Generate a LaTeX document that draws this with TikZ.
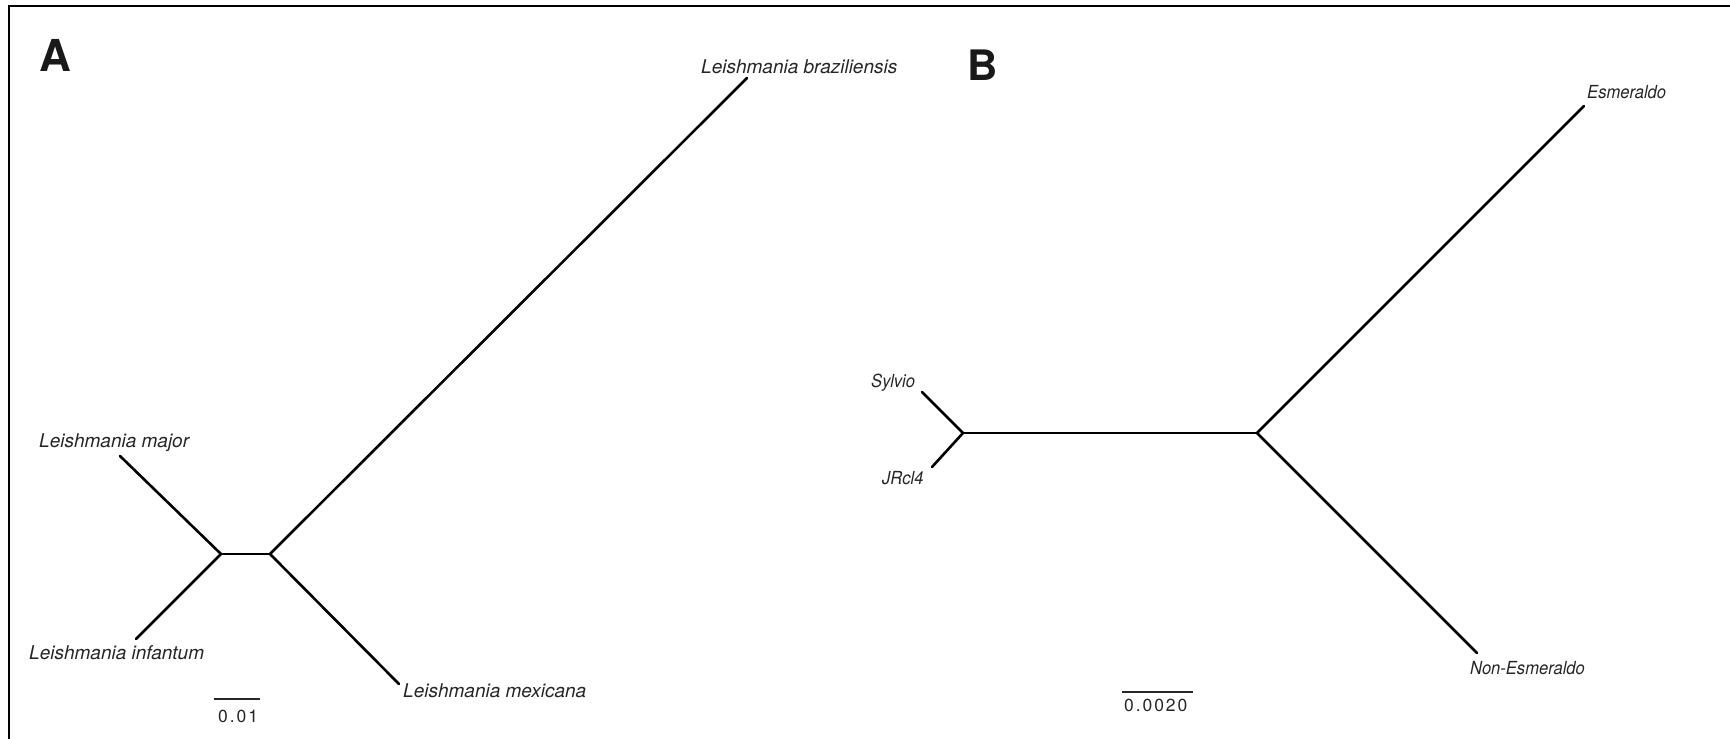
\documentclass[tikz,border=0pt]{standalone}
\usepackage{fontspec}
\setmainfont{TeX Gyre Heros}
\newfontfamily\labAfont{TeX Gyre Heros}
\newfontfamily\labBfont{TeX Gyre Heros}[FakeStretch=0.92]
\newfontfamily\scbarfont{TeX Gyre Heros}[LetterSpace=11]
\begin{document}
\begin{tikzpicture}[x=1pt,y=-1pt,
  branch/.style={line width=2.6pt,line cap=round,line join=round,black},
  labA/.style={anchor=base west,inner sep=0pt,text=black!85,font=\labAfont\itshape\fontsize{19}{22}\selectfont},
  labB/.style={anchor=base west,inner sep=0pt,text=black!85,font=\labBfont\itshape\fontsize{18}{21}\selectfont},
  sclab/.style={anchor=base west,inner sep=0pt,text=black!85,font=\scbarfont\fontsize{17.5}{20}\selectfont},
  panel/.style={anchor=base west,inner sep=0pt,text=black!90,font=\bfseries\fontsize{44}{48}\selectfont},
  scbar/.style={line width=2.6pt,black!85}]
\useasboundingbox (0,0) rectangle (1730,739);
% frame
\draw[line width=2pt] (9,739) -- (9,6) -- (756,6);
\draw[line width=1.7pt] (756,6) -- (1730,6);
% panel letters
\node[panel] (pA) at (39,71) {A};
\node[panel,font=\bfseries\fontsize{42}{46}\selectfont] (pB) at (967,80) {B};
% ---- Panel A ----
\coordinate (a1) at (221,554);
\coordinate (a2) at (270,554);
\coordinate (tmaj) at (120,456);
\coordinate (tinf) at (136,639);
\coordinate (tmex) at (399,684);
\coordinate (tbra) at (747,78);
\draw[branch] (tmaj) -- (a1) -- (tinf);
\draw[branch] (a1) -- (a2);
\draw[branch] (tbra) -- (a2) -- (tmex);
\node[labA] (lmaj) at (39,447) {Leishmania major};
\node[labA] (linf) at (29,659) {Leishmania infantum};
\node[labA] (lmex) at (403,697) {Leishmania mexicana};
\node[labA] (lbra) at (701,73) {Leishmania braziliensis};
\coordinate (sa1) at (214,699);
\coordinate (sa2) at (260,699);
\draw[scbar] (sa1) -- (sa2);
\node[sclab] (sca) at (218,722) {0.01};
% ---- Panel B ----
\coordinate (b1) at (963,433);
\coordinate (b2) at (1257,433);
\coordinate (tsyl) at (922,392);
\coordinate (tjrc) at (932,467);
\coordinate (tesm) at (1584,106);
\coordinate (tnon) at (1477,653);
\draw[branch] (tsyl) -- (b1) -- (tjrc);
\draw[branch] (b1) -- (b2);
\draw[branch] (tesm) -- (b2) -- (tnon);
\node[labB] (lsyl) at (871,387) {Sylvio};
\node[labB] (ljrc) at (882,484) {JRcl4};
\node[labB] (lesm) at (1587,98) {Esmeraldo};
\node[labB] (lnon) at (1470,674) {Non-Esmeraldo};
\coordinate (sb1) at (1122,692);
\coordinate (sb2) at (1193,692);
\draw[scbar] (sb1) -- (sb2);
\node[sclab] (scb) at (1124,711) {0.0020};
\end{tikzpicture}
\end{document}
